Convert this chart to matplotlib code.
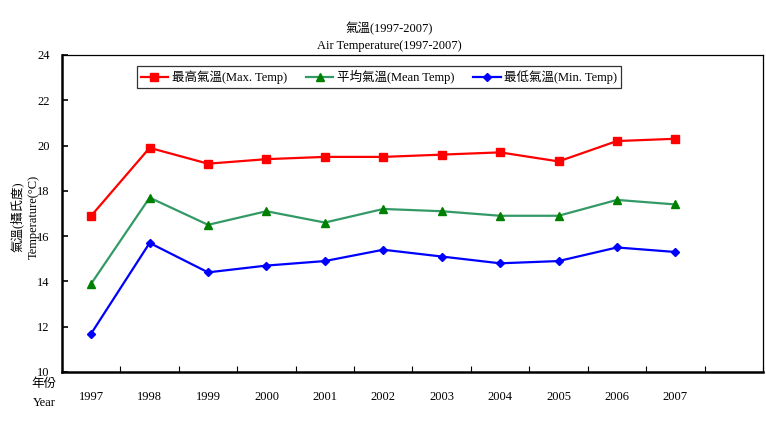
import numpy as np
import matplotlib.pyplot as plt

plt.rcParams['font.family'] = ['Liberation Serif', 'Noto Sans CJK TC']

# ---------- 資料 ----------
years = ['1997', '1998', '1999', '2000', '2001', '2002', '2003', '2004', '2005', '2006', '2007']
max_temp = [16.9, 19.9, 19.2, 19.4, 19.5, 19.5, 19.6, 19.7, 19.3, 20.2, 20.3]
mean_temp = [13.9, 17.7, 16.5, 17.1, 16.6, 17.2, 17.1, 16.9, 16.9, 17.6, 17.4]
min_temp = [11.7, 15.7, 14.4, 14.7, 14.9, 15.4, 15.1, 14.8, 14.9, 15.5, 15.3]
y_ticks = [10, 12, 14, 16, 18, 20, 22, 24]

fig = plt.figure(figsize=(7.66, 4.42), dpi=100)
ax = fig.add_axes([62 / 766, 70 / 442, 701 / 766, 317 / 442])

x = np.arange(len(years))
ax.plot(x, max_temp, color='#ff0000', lw=1.6, marker='s', ms=5.5,
        label='最高氣溫(Max. Temp)')
ax.plot(x, mean_temp, color='#339966', lw=1.6, marker='^', ms=5.5,
        mfc='#008000', mec='#008000', label='平均氣溫(Mean Temp)')
ax.plot(x, min_temp, color='#0000ff', lw=1.6, marker='D', ms=4.5,
        label='最低氣溫(Min. Temp)')

ax.set_xlim(-0.5, len(years) + 0.5)
ax.set_ylim(10, 24)
ax.set_yticks(y_ticks)
ax.set_yticklabels([str(v) for v in y_ticks], fontsize=9)
ax.tick_params(axis='y', direction='in', length=4, width=1.2, pad=9)

ax.set_xticks(x)
ax.set_xticklabels(years, fontsize=9)
ax.set_xticks(np.arange(-0.5, len(years) + 1.0, 1.0), minor=True)
ax.tick_params(axis='x', which='major', length=0, pad=14)
ax.tick_params(axis='x', which='minor', direction='in', length=4, width=0.8)

for s in ['left', 'bottom']:
    ax.spines[s].set_linewidth(1.8)
for s in ['top', 'right']:
    ax.spines[s].set_linewidth(0.9)

leg = ax.legend(loc='upper left', bbox_to_anchor=(0.098, 0.985), ncol=3,
                fontsize=9, frameon=True, fancybox=False, edgecolor='black',
                borderpad=0.3, handlelength=2.2, columnspacing=1.5,
                handletextpad=0.3)
leg.get_frame().set_linewidth(0.9)

fig.text(0.508, 0.936, '氣溫(1997-2007)', ha='center', va='center', fontsize=9)
fig.text(0.508, 0.895, 'Air Temperature(1997-2007)', ha='center', va='center', fontsize=9)
fig.text(17 / 766, 0.51, '氣溫(攝氏度)', rotation=90, ha='center', va='center', fontsize=9)
fig.text(34 / 766, 0.51, 'Temperature(°C)', rotation=90, ha='center', va='center', fontsize=9)
fig.text(44 / 766, 1 - 384 / 442, '年份', ha='center', va='center', fontsize=9)
fig.text(44 / 766, 1 - 403 / 442, 'Year', ha='center', va='center', fontsize=9)

fig.savefig('out.png', dpi=100)
